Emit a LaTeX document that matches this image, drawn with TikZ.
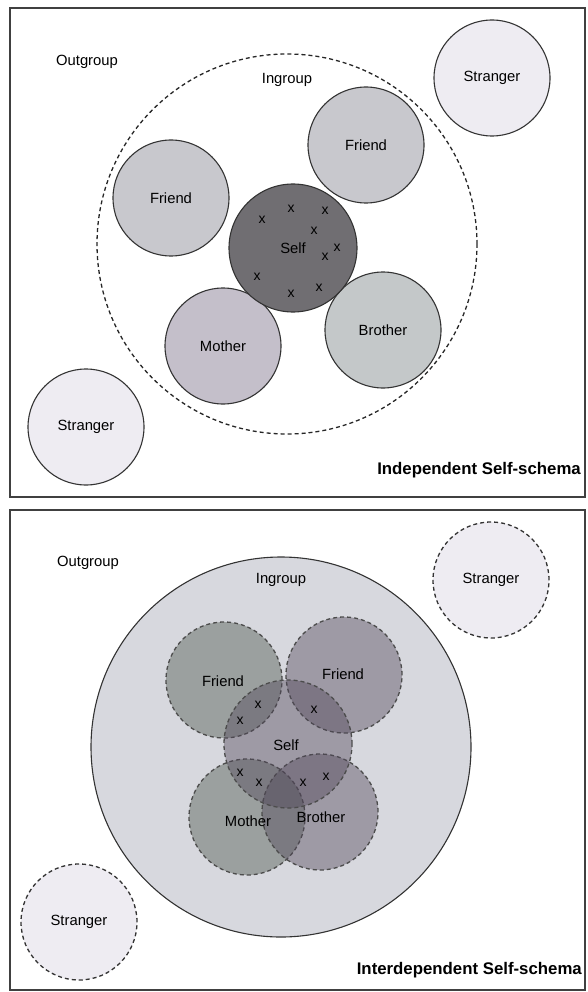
\documentclass[tikz,border=0pt]{standalone}
\usepackage{fontspec}
\setmainfont{Liberation Sans}
\definecolor{friendgray}{RGB}{200,200,205}
\definecolor{mothergray}{RGB}{196,191,202}
\definecolor{brothergray}{RGB}{196,200,201}
\definecolor{selfgray}{RGB}{112,110,114}
\definecolor{strangergray}{RGB}{238,236,242}
\definecolor{ingroupfill}{RGB}{215,216,222}
\definecolor{innergreen}{RGB}{74,84,72}
\definecolor{innerviolet}{RGB}{80,70,88}

\begin{document}
\begin{tikzpicture}[x=1pt,y=-1pt,
    frame/.style={draw=black!75, line width=1.3pt},
    lbl/.style={font=\fontsize{14.8}{16}\selectfont, inner sep=0pt},
    title/.style={font=\bfseries\fontsize{16.8}{18}\selectfont, inner sep=0pt, anchor=east},
    person/.style={circle, draw=black!80, line width=1.1pt, minimum size=116pt, inner sep=0pt, font=\fontsize{14.8}{16}\selectfont},
    selfcirc/.style={person, minimum size=128pt},
    dashcirc/.style={dash pattern=on 4pt off 3pt, line width=1.3pt},
    trait/.style={font=\fontsize{14}{14}\selectfont, inner sep=0pt},
    inner/.style={person, dashcirc, draw=black!70, fill opacity=0.42, text opacity=1}]
    \useasboundingbox (0,0) rectangle (587,992);

    % Top panel: independent self-schema
    \draw[frame] (10,8) rectangle (585,497);
    \node[circle, draw=black!85, dashcirc, minimum size=380pt, inner sep=0pt] (ingroupA) at (287,244) {};
    \node[lbl] (outgroupA) at (87,62) {Outgroup};
    \node[lbl] (ingrouplabelA) at (287,80) {Ingroup};
    \node[person, fill=strangergray] (strangerA1) at (492,78) {Stranger};
    \node[person, fill=strangergray] (strangerA2) at (86,427) {Stranger};
    \node[person, fill=friendgray] (friendA1) at (171,198) {Friend};
    \node[person, fill=friendgray] (friendA2) at (366,145) {Friend};
    \node[person, fill=mothergray] (motherA) at (223,346) {Mother};
    \node[person, fill=brothergray] (brotherA) at (383,330) {Brother};
    \node[selfcirc, fill=selfgray] (selfA) at (293,248) {Self};
    % Traits of the self
    \foreach \p [count=\i] in {(262,220),(291,209),(325,211),(314,231),(337,248),(325,257),(257,277),(291,294),(319,288)}
        \node[trait] (xA\i) at \p {x};
    \node[title] (titleA) at (581,470) {Independent Self-schema};

    % Bottom panel: interdependent self-schema
    \draw[frame] (10,510) rectangle (585,990);
    \node[circle, draw=black!80, line width=1.1pt, fill=ingroupfill, minimum size=380pt, inner sep=0pt] (ingroupB) at (281,747) {};
    \node[lbl] (outgroupB) at (88,563) {Outgroup};
    \node[lbl] (ingrouplabelB) at (281,580) {Ingroup};
    \node[person, dashcirc, fill=strangergray] (strangerB1) at (491,580) {Stranger};
    \node[person, dashcirc, fill=strangergray] (strangerB2) at (79,922) {Stranger};
    \node[inner, fill=innergreen] (friendB1) at (224,680) {};
    \node[inner, fill=innerviolet] (friendB2) at (344,675) {};
    \node[inner, fill=innergreen] (motherB) at (247,817) {};
    \node[inner, fill=innerviolet] (brotherB) at (320,812) {};
    \node[inner, fill=innerviolet, minimum size=128pt] (selfB) at (288,744) {};
    % Labels on top of the overlaps
    \node[lbl] (friendtextB1) at (223,681) {Friend};
    \node[lbl] (friendtextB2) at (343,674) {Friend};
    \node[lbl] (selftextB) at (286,745) {Self};
    \node[lbl] (mothertextB) at (248,821) {Mother};
    \node[lbl] (brothertextB) at (321,817) {Brother};
    % Traits shared with others
    \foreach \p [count=\i] in {(258,705),(240,721),(314,710),(240,773),(259,783),(303,783),(326,777)}
        \node[trait] (xB\i) at \p {x};
    \node[title] (titleB) at (582,970) {Interdependent Self-schema};
\end{tikzpicture}
\end{document}
